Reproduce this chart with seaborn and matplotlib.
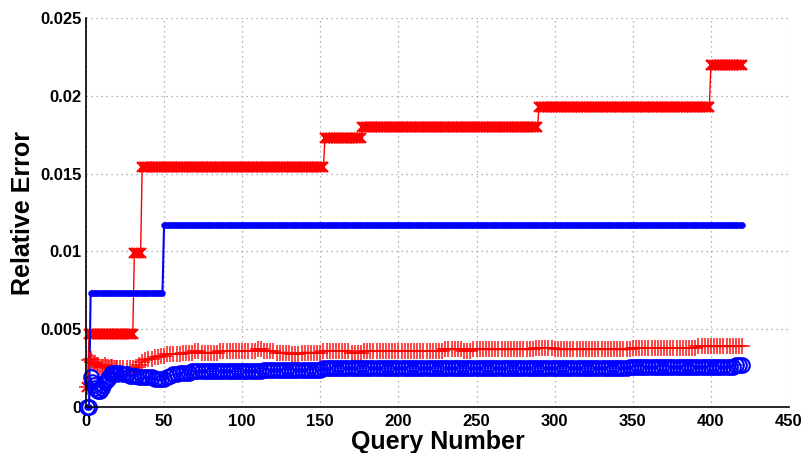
import numpy as np
import pandas as pd
import matplotlib
matplotlib.use("Agg")
import matplotlib.pyplot as plt
import seaborn as sns
from matplotlib.ticker import MultipleLocator, FuncFormatter

# step series (max error): first query of each level and the level
red_max_start = [1, 2, 31, 36, 153, 177, 290, 400]
red_max_level = [0.0013, 0.0047, 0.0099, 0.0154, 0.0173, 0.0180, 0.0193, 0.0220]
blue_max_start = [1, 3, 50]
blue_max_level = [0.0, 0.0073, 0.0117]
last_query = 420

# average error series: every query up to 20, then every second query
avg_queries = list(range(1, 21)) + list(range(22, 421, 2))
red_avg = [
    0.0013, 0.0030, 0.0031, 0.0029, 0.0028, 0.0028, 0.0027, 0.0027, 0.0026, 0.0026,
    0.0026, 0.0027, 0.0026, 0.0026, 0.0025, 0.0026, 0.0026, 0.0025, 0.0025, 0.0025,
    # 22 .. 420
    0.0025, 0.0025, 0.0025, 0.0025, 0.0025, 0.0026, 0.0027, 0.0029, 0.0030, 0.0031,
    0.0031, 0.0032, 0.0032, 0.0033, 0.0033, 0.0034, 0.0034, 0.0034, 0.0034, 0.0034,
    0.0035, 0.0035, 0.0035, 0.0035, 0.0036, 0.0036, 0.0035, 0.0035, 0.0035, 0.0035,
    0.0035, 0.0035, 0.0036, 0.0036, 0.0036, 0.0036, 0.0036, 0.0036, 0.0036, 0.0036,
    0.0036, 0.0036, 0.0036, 0.0036, 0.0037, 0.0037, 0.0036, 0.0036, 0.0036, 0.0036,
    0.0035, 0.0035, 0.0035, 0.0035, 0.0035, 0.0034, 0.0034, 0.0034, 0.0035, 0.0035,
    0.0035, 0.0035, 0.0035, 0.0035, 0.0035, 0.0036, 0.0036, 0.0036, 0.0036, 0.0036,
    0.0036, 0.0036, 0.0036, 0.0036, 0.0035, 0.0035, 0.0035, 0.0035, 0.0036, 0.0036,
    0.0036, 0.0036, 0.0036, 0.0036, 0.0036, 0.0036, 0.0036, 0.0036, 0.0036, 0.0036,
    0.0036, 0.0036, 0.0036, 0.0036, 0.0036, 0.0036, 0.0036, 0.0036, 0.0036, 0.0036,
    0.0036, 0.0036, 0.0036, 0.0036, 0.0037, 0.0037, 0.0037, 0.0037, 0.0037, 0.0037,
    0.0036, 0.0036, 0.0036, 0.0037, 0.0037, 0.0037, 0.0037, 0.0037, 0.0037, 0.0037,
    0.0037, 0.0037, 0.0037, 0.0037, 0.0037, 0.0037, 0.0037, 0.0037, 0.0037, 0.0037,
    0.0037, 0.0037, 0.0037, 0.0038, 0.0038, 0.0038, 0.0038, 0.0038, 0.0038, 0.0037,
    0.0037, 0.0037, 0.0037, 0.0037, 0.0037, 0.0037, 0.0037, 0.0037, 0.0037, 0.0037,
    0.0037, 0.0037, 0.0037, 0.0037, 0.0037, 0.0037, 0.0037, 0.0037, 0.0037, 0.0037,
    0.0037, 0.0037, 0.0037, 0.0037, 0.0038, 0.0038, 0.0038, 0.0038, 0.0038, 0.0038,
    0.0038, 0.0038, 0.0038, 0.0038, 0.0038, 0.0038, 0.0038, 0.0038, 0.0038, 0.0038,
    0.0038, 0.0038, 0.0038, 0.0038, 0.0038, 0.0039, 0.0039, 0.0039, 0.0039, 0.0039,
    0.0039, 0.0039, 0.0039, 0.0039, 0.0039, 0.0039, 0.0039, 0.0039, 0.0039, 0.0039,
]
blue_avg = [
    0.0000, 0.0000, 0.0019, 0.0016, 0.0014, 0.0012, 0.0011, 0.0010, 0.0010, 0.0012,
    0.0014, 0.0016, 0.0017, 0.0018, 0.0019, 0.0021, 0.0022, 0.0022, 0.0022, 0.0021,
    # 22 .. 420
    0.0022, 0.0021, 0.0021, 0.0020, 0.0020, 0.0020, 0.0019, 0.0019, 0.0019, 0.0019,
    0.0019, 0.0018, 0.0018, 0.0018, 0.0018, 0.0019, 0.0020, 0.0021, 0.0021, 0.0022,
    0.0022, 0.0022, 0.0022, 0.0023, 0.0023, 0.0023, 0.0023, 0.0023, 0.0023, 0.0023,
    0.0023, 0.0023, 0.0023, 0.0023, 0.0023, 0.0023, 0.0023, 0.0023, 0.0023, 0.0023,
    0.0023, 0.0023, 0.0023, 0.0023, 0.0023, 0.0023, 0.0024, 0.0024, 0.0024, 0.0024,
    0.0024, 0.0024, 0.0024, 0.0024, 0.0024, 0.0024, 0.0024, 0.0024, 0.0024, 0.0024,
    0.0024, 0.0024, 0.0024, 0.0024, 0.0024, 0.0025, 0.0025, 0.0025, 0.0025, 0.0025,
    0.0025, 0.0025, 0.0025, 0.0025, 0.0025, 0.0025, 0.0025, 0.0025, 0.0025, 0.0025,
    0.0025, 0.0025, 0.0025, 0.0025, 0.0025, 0.0025, 0.0025, 0.0025, 0.0025, 0.0025,
    0.0025, 0.0025, 0.0025, 0.0025, 0.0025, 0.0025, 0.0025, 0.0025, 0.0025, 0.0025,
    0.0025, 0.0025, 0.0025, 0.0025, 0.0025, 0.0025, 0.0025, 0.0025, 0.0025, 0.0025,
    0.0025, 0.0025, 0.0025, 0.0025, 0.0025, 0.0025, 0.0025, 0.0025, 0.0025, 0.0025,
    0.0025, 0.0025, 0.0025, 0.0025, 0.0025, 0.0025, 0.0025, 0.0025, 0.0025, 0.0025,
    0.0025, 0.0025, 0.0025, 0.0025, 0.0025, 0.0025, 0.0025, 0.0025, 0.0025, 0.0025,
    0.0025, 0.0025, 0.0025, 0.0025, 0.0025, 0.0025, 0.0025, 0.0025, 0.0025, 0.0025,
    0.0025, 0.0025, 0.0025, 0.0025, 0.0025, 0.0025, 0.0025, 0.0025, 0.0025, 0.0025,
    0.0025, 0.0025, 0.0025, 0.0026, 0.0026, 0.0026, 0.0026, 0.0026, 0.0026, 0.0026,
    0.0026, 0.0026, 0.0026, 0.0026, 0.0026, 0.0026, 0.0026, 0.0026, 0.0026, 0.0026,
    0.0026, 0.0026, 0.0026, 0.0026, 0.0026, 0.0026, 0.0026, 0.0026, 0.0026, 0.0026,
    0.0026, 0.0026, 0.0026, 0.0026, 0.0026, 0.0026, 0.0026, 0.0027, 0.0027, 0.0027,
]


def expand_steps(starts, levels, end):
    # every query keeps the level of the segment it falls in
    lengths = np.diff(starts + [end + 1])
    return np.arange(1, end + 1), np.repeat(levels, lengths)


qr, red_max = expand_steps(red_max_start, red_max_level, last_query)
qb, blue_max = expand_steps(blue_max_start, blue_max_level, last_query)

sns.set_style("white")
plt.rcParams["font.family"] = ["Liberation Sans", "DejaVu Sans"]
plt.rcParams["font.weight"] = "bold"
plt.rcParams["text.color"] = "black"
plt.rcParams["axes.labelcolor"] = "black"

fig = plt.figure(figsize=(8.03, 4.53), dpi=100)
ax = fig.add_axes([0.107, 0.1015, 0.8756, 0.8585])

sns.lineplot(x=qr, y=red_max, ax=ax, color="red", lw=1, marker="x", markersize=7.5,
             markeredgecolor="red", markeredgewidth=1.5, clip_on=False)
sns.lineplot(x=qb, y=blue_max, ax=ax, color="blue", lw=1.5, marker="o", markersize=4.3,
             markerfacecolor="blue", markeredgecolor="blue", markeredgewidth=0.3, clip_on=False)
sns.lineplot(x=avg_queries, y=red_avg, ax=ax, color="red", lw=1.3, marker="+", markersize=12,
             markeredgecolor="red", markeredgewidth=1.2, alpha=0.85, clip_on=False)
sns.lineplot(x=avg_queries, y=blue_avg, ax=ax, color="blue", lw=1, marker="o", markersize=10.5,
             markerfacecolor="none", markeredgecolor="blue", markeredgewidth=1.5, clip_on=False)

ax.set_xlim(0, 450)
ax.set_ylim(0, 0.025)
ax.xaxis.set_major_locator(MultipleLocator(50))
ax.xaxis.set_minor_locator(MultipleLocator(10))
ax.yaxis.set_major_locator(MultipleLocator(0.005))
ax.yaxis.set_minor_locator(MultipleLocator(0.001))
ax.yaxis.set_major_formatter(FuncFormatter(lambda v, p: "%g" % round(v, 4)))

ax.grid(True, which="major", color="#9a9a9a", linestyle=(0, (1, 3)), linewidth=0.9)
ax.set_axisbelow(True)
for s in ["top", "right"]:
    ax.spines[s].set_visible(False)
for s in ["left", "bottom"]:
    ax.spines[s].set_color("black")
    ax.spines[s].set_linewidth(1.2)

ax.tick_params(which="major", direction="in", length=6, width=1.2, colors="black",
               labelsize=12)
ax.tick_params(which="minor", direction="in", length=3, width=1, colors="black")
ax.tick_params(axis="x", which="major", pad=5)
ax.tick_params(axis="y", which="major", pad=3)
for lab in ax.get_xticklabels() + ax.get_yticklabels():
    lab.set_fontweight("bold")

ax.set_xlabel("Query Number", fontsize=18, fontweight="bold", color="black", labelpad=1)
ax.set_ylabel("Relative Error", fontsize=18, fontweight="bold", color="black", labelpad=4)

fig.savefig("out.png", dpi=100)
